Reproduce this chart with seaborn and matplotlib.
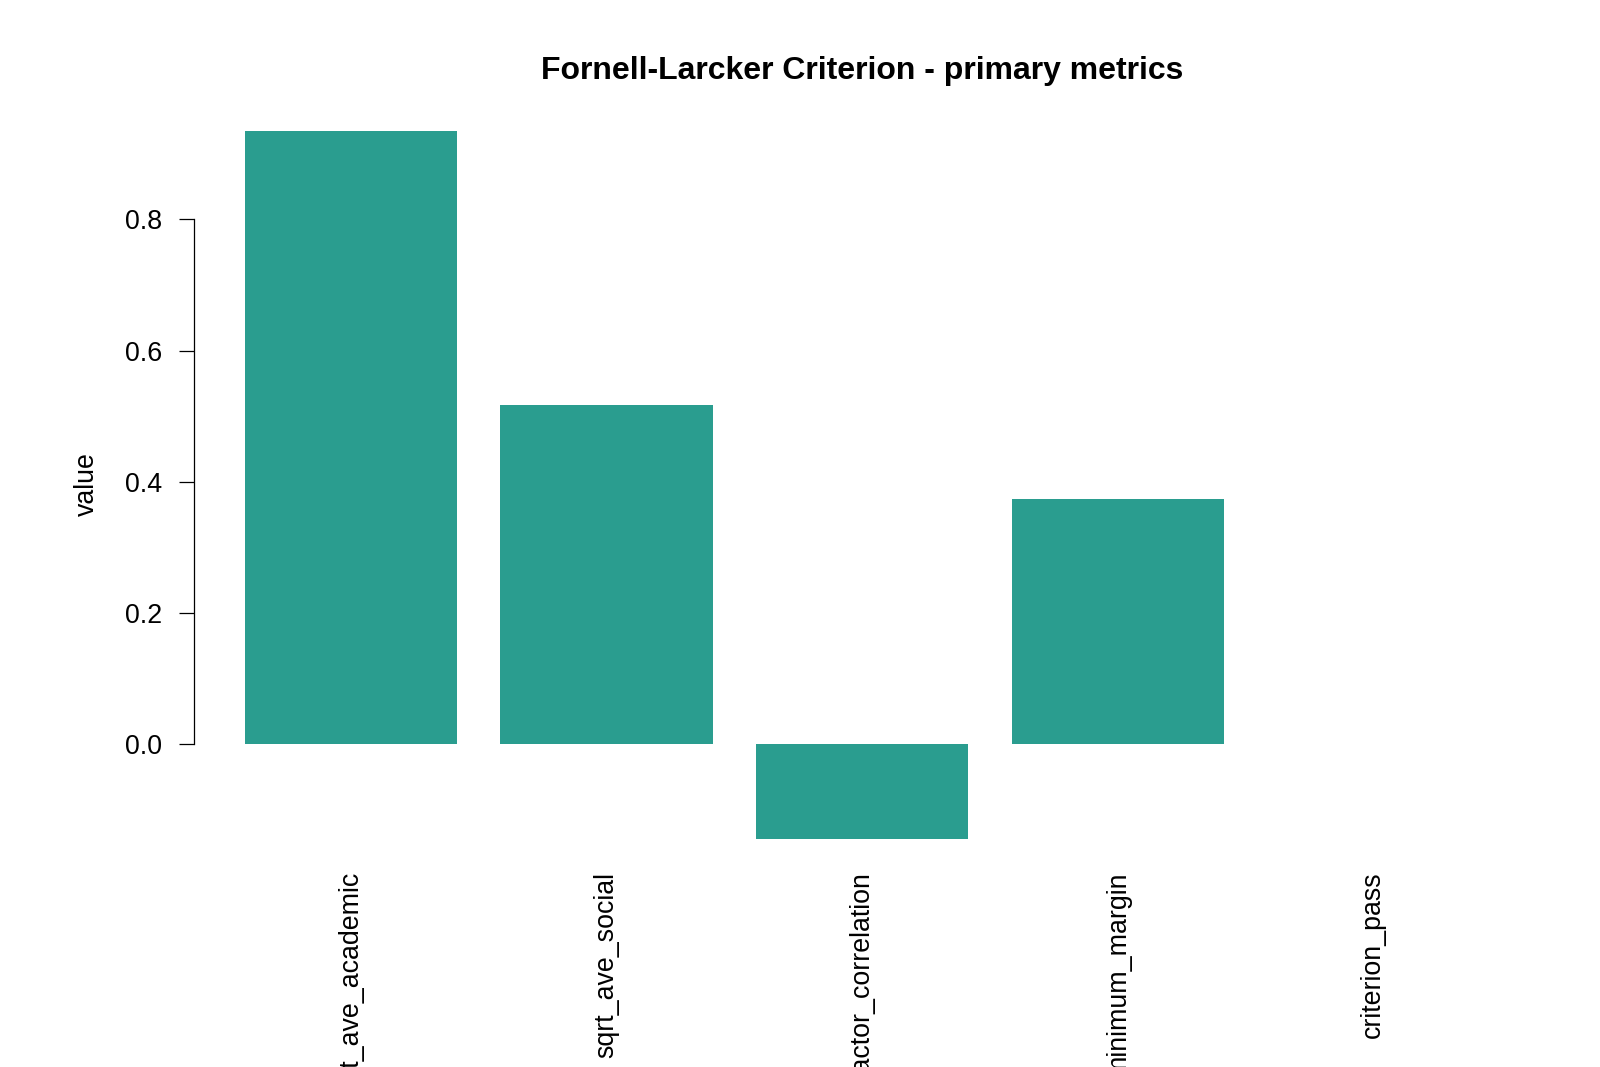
import matplotlib
matplotlib.use("Agg")
import matplotlib.pyplot as plt
import seaborn as sns
import pandas as pd

# values
metrics = ["sqrt_ave_academic", "sqrt_ave_social", "factor_correlation",
           "minimum_margin", "criterion_pass"]
values = [0.935, 0.517, -0.145, 0.374, 0.0]
y_ticks = [0.0, 0.2, 0.4, 0.6, 0.8]

bar_color = "#2A9D8F"

sns.set_theme(style="white")
plt.rcParams["font.family"] = ["Liberation Sans", "DejaVu Sans"]
plt.rcParams["text.color"] = "black"
plt.rcParams["axes.labelcolor"] = "black"
plt.rcParams["xtick.color"] = "black"
plt.rcParams["ytick.color"] = "black"

df = pd.DataFrame({"metric": metrics, "value": values})

W, H = 1600, 1067
fig = plt.figure(figsize=(W / 100, H / 100), dpi=100)
# plot region in pixels (R-style margins)
left, right, top, bottom = 194, 1530, 103, 860
ax = fig.add_axes([left / W, 1 - bottom / H, (right - left) / W, (bottom - top) / H])

sns.barplot(data=df, x="metric", y="value", color=bar_color, saturation=1,
            width=0.83, linewidth=0, ax=ax)

ax.set_xlim(-0.614, 4.613)
ax.set_ylim(-0.1769, 0.9776)

for side in ["top", "right", "bottom"]:
    ax.spines[side].set_visible(False)
ax.spines["left"].set_bounds(0, 0.8)
ax.spines["left"].set_color("black")
ax.spines["left"].set_linewidth(0.9)

ax.set_yticks(y_ticks)
ax.set_yticklabels([f"{t:.1f}" for t in y_ticks])
ax.tick_params(axis="y", direction="out", length=11, width=0.9, color="black",
               labelsize=19.3, pad=12, left=True)
ax.tick_params(axis="x", length=0, labelsize=19.3, pad=8.5)
plt.setp(ax.get_xticklabels(), rotation=90, ha="center", va="top")

ax.set_xlabel("")
ax.set_ylabel("value", fontsize=19.3)
ax.yaxis.set_label_coords(-0.0705, 0.497)
ax.set_title("Fornell-Larcker Criterion - primary metrics", fontsize=23,
             fontweight="bold", pad=17)

fig.savefig("out.png", dpi=100)
